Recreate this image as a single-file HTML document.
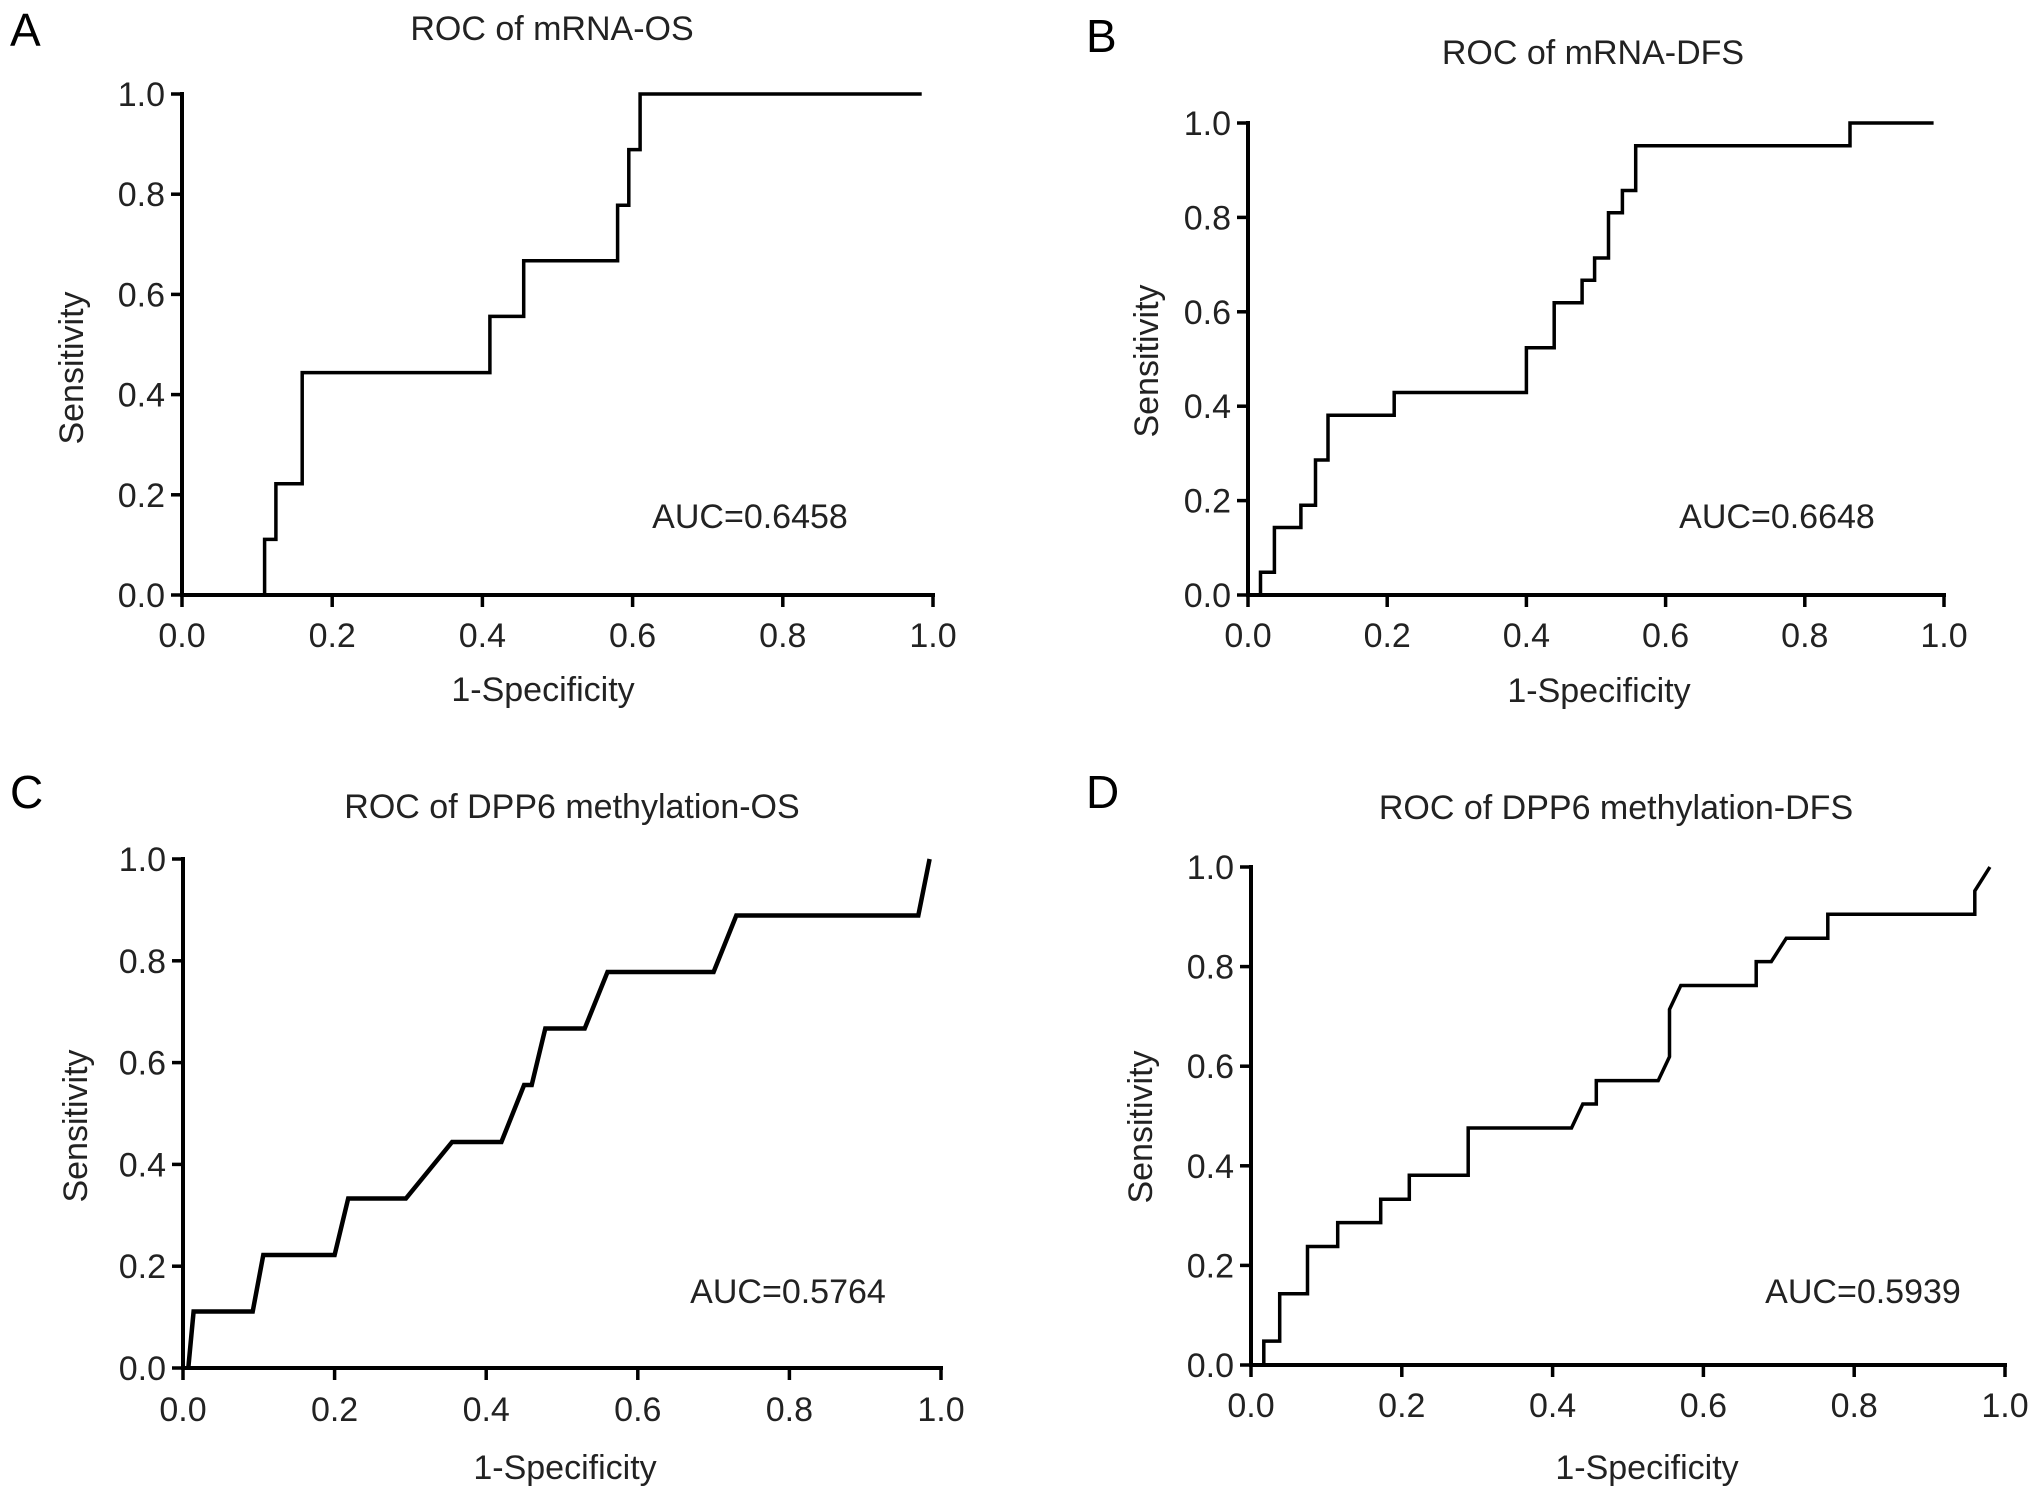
<!DOCTYPE html>
<html><head><meta charset="utf-8"><style>
html,body{margin:0;padding:0;background:#fff;}
svg{display:block;font-family:"Liberation Sans",Arial,sans-serif;}
</style></head><body>
<svg id="fig" width="2032" height="1493" viewBox="0 0 2032 1493" xmlns="http://www.w3.org/2000/svg"></svg>
<script>
// Panel A: ROC of mRNA-OS
const aX = [0,0.11,0.11,0.125,0.125,0.16,0.16,0.41,0.41,0.455,0.455,0.58,0.58,0.595,0.595,0.61,0.61,0.985];
const aY = [0,0,0.111,0.111,0.222,0.222,0.444,0.444,0.556,0.556,0.667,0.667,0.778,0.778,0.889,0.889,1,1];
// Panel B: ROC of mRNA-DFS
const bX = [0.018,0.018,0.038,0.038,0.076,0.076,0.097,0.097,0.115,0.115,0.21,0.21,0.40,0.40,0.44,0.44,0.48,0.48,0.498,0.498,0.518,0.518,0.538,0.538,0.557,0.557,0.865,0.865,0.985];
const bY = [0,0.048,0.048,0.143,0.143,0.19,0.19,0.286,0.286,0.381,0.381,0.429,0.429,0.524,0.524,0.619,0.619,0.667,0.667,0.714,0.714,0.81,0.81,0.857,0.857,0.952,0.952,1,1];
// Panel C: ROC of DPP6 methylation-OS
const cX = [0.007,0.014,0.092,0.106,0.2,0.218,0.294,0.355,0.42,0.45,0.46,0.478,0.53,0.56,0.70,0.73,0.97,0.985];
const cY = [0,0.111,0.111,0.222,0.222,0.333,0.333,0.444,0.444,0.556,0.556,0.667,0.667,0.778,0.778,0.889,0.889,1.0];
// Panel D: ROC of DPP6 methylation-DFS
const dX = [0.017,0.017,0.038,0.038,0.075,0.075,0.115,0.115,0.172,0.172,0.21,0.21,0.288,0.288,0.425,0.44,0.458,0.458,0.54,0.555,0.555,0.57,0.67,0.67,0.69,0.71,0.765,0.765,0.96,0.96,0.98];
const dY = [0,0.048,0.048,0.143,0.143,0.238,0.238,0.286,0.286,0.333,0.333,0.381,0.381,0.476,0.476,0.524,0.524,0.571,0.571,0.619,0.714,0.762,0.762,0.81,0.81,0.857,0.857,0.905,0.905,0.952,1.0];
const tickVals = [0,0.2,0.4,0.6,0.8,1.0];
const tickLabels = ["0.0","0.2","0.4","0.6","0.8","1.0"];
const titles = ["ROC of mRNA-OS","ROC of mRNA-DFS","ROC of DPP6 methylation-OS","ROC of DPP6 methylation-DFS"];
const aucs = ["AUC=0.6458","AUC=0.6648","AUC=0.5764","AUC=0.5939"];
const letters = ["A","B","C","D"];

const NS = "http://www.w3.org/2000/svg";
const svg = document.getElementById('fig');
function mk(tag, attrs, parent){
  const e = document.createElementNS(NS, tag);
  for (const k in attrs) e.setAttribute(k, attrs[k]);
  (parent||svg).appendChild(e);
  return e;
}
const panels = [
  {xs:aX, ys:aY, x0:182, x1:933, y0:595, y1:94, tx:552, ty:40, lx:10, ly:46, sx:74, sy:368, xlx:543, xly:701, ax:750, ay:528, sw:3.5, tly:647},
  {xs:bX, ys:bY, x0:1248, x1:1944, y0:595, y1:123, tx:1593, ty:64, lx:1086, ly:52, sx:1149, sy:361, xlx:1599, xly:702, ax:1777, ay:528, sw:3.5, tly:647},
  {xs:cX, ys:cY, x0:183, x1:941, y0:1368, y1:859, tx:572, ty:818, lx:10, ly:808, sx:78, sy:1126, xlx:565, xly:1479, ax:788, ay:1303, sw:4.5, tly:1421},
  {xs:dX, ys:dY, x0:1251, x1:2005, y0:1365, y1:867, tx:1616, ty:819, lx:1086, ly:808, sx:1143, sy:1127, xlx:1647, xly:1479, ax:1863, ay:1303, sw:3.5, tly:1417}
];
panels.forEach((p, i) => {
  const g = mk('g', {});
  
  
  const sx = v => p.x0 + v * (p.x1 - p.x0);
  const sy = v => p.y0 - v * (p.y0 - p.y1);
  const L = mk('text', {x:p.lx, y:p.ly, 'font-size':46}, g); L.textContent = letters[i];
  
  
  const T = mk('text', {x:p.tx, y:p.ty, 'font-size':34, 'text-anchor':'middle', fill:'#222'}, g); T.textContent = titles[i];
  
  
  const ya = mk('line', {x1:p.x0, y1:p.y0+2, x2:p.x0, y2:p.y1-2, stroke:'#000', 'stroke-width':4}, g);
  
  
  const xa = mk('line', {x1:p.x0-2, y1:p.y0, x2:p.x1+2, y2:p.y0, stroke:'#000', 'stroke-width':4}, g);
  
  
  tickVals.forEach((v, k) => {
    const ty = mk('line', {x1:p.x0-11, y1:sy(v), x2:p.x0, y2:sy(v), stroke:'#000', 'stroke-width':3.5}, g);
    
    
    const yl = mk('text', {x:p.x0-17, y:sy(v)+12, 'font-size':34, 'text-anchor':'end', fill:'#222'}, g);
    yl.textContent = tickLabels[k];
    
    
    const tx = mk('line', {x1:sx(v), y1:p.y0, x2:sx(v), y2:p.y0+12, stroke:'#000', 'stroke-width':3.5}, g);
    
    
    const xl = mk('text', {x:sx(v), y:p.tly, 'font-size':34, 'text-anchor':'middle', fill:'#222'}, g);
    xl.textContent = tickLabels[k];
    
    
  });
  const S = mk('text', {x:p.sx, y:p.sy, 'font-size':34, 'text-anchor':'middle', transform:`rotate(-90 ${p.sx} ${p.sy})`, 'dominant-baseline':'middle', fill:'#222'}, g);
  S.textContent = 'Sensitivity';
  
  
  const X = mk('text', {x:p.xlx, y:p.xly, 'font-size':34, 'text-anchor':'middle', fill:'#222'}, g);
  X.textContent = '1-Specificity';
  
  
  const A = mk('text', {x:p.ax, y:p.ay, 'font-size':34, 'text-anchor':'middle', fill:'#222'}, g);
  A.textContent = aucs[i];
  
  
  const pts = p.xs.map((x, k) => sx(x).toFixed(1) + ',' + sy(p.ys[k]).toFixed(1)).join(' ');
  const c = mk('polyline', {points:pts, fill:'none', stroke:'#000', 'stroke-width':p.sw, 'stroke-linejoin':'miter'}, g);
  
  
});
</script>
</body></html>
